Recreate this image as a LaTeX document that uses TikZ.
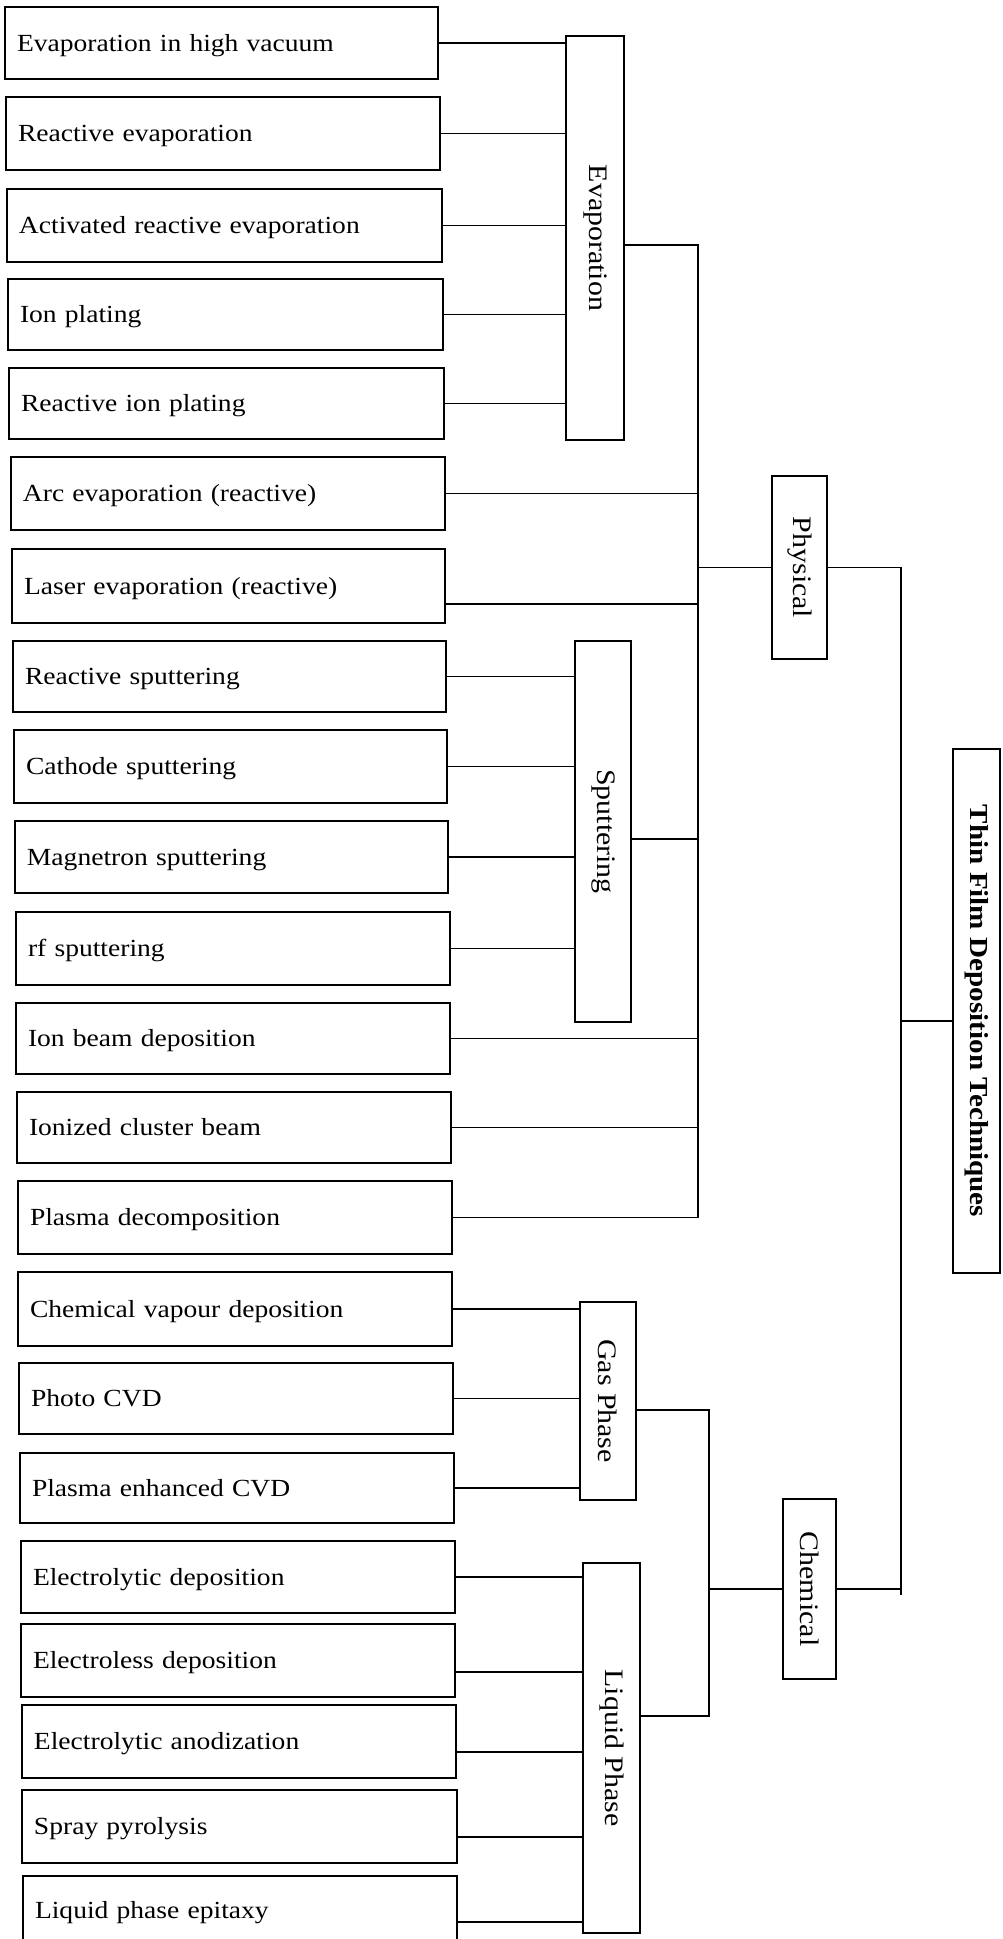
\documentclass[tikz,border=0pt]{standalone}
\usepackage{fontspec}
\setmainfont[FakeStretch=1.12]{Liberation Serif}
\usepackage{graphicx}
\newcommand\leafnode[6]{%
  \pgfmathsetmacro\lfw{#4-#2-24}%
  \pgfmathsetmacro\lfh{#5-#3}%
  \node[leafst, text width=\lfw pt, minimum height=\lfh pt] (#1) at ({(#2+#4)/2},{(#3+#5)/2}) {#6};}
\newcommand\catnode[7]{%
  \pgfmathsetmacro\cw{#4-#2}%
  \pgfmathsetmacro\ch{#5-#3}%
  \node[catst, minimum width=\cw pt, minimum height=\ch pt, #7] (#1) at ({(#2+#4)/2},{(#3+#5)/2}) {\rotatebox{-90}{#6}};}
\begin{document}
\begin{tikzpicture}[x=1pt, y=-1pt, line width=1.8pt,
  leafst/.style={draw, rectangle, inner xsep=12pt, inner ysep=0pt, align=left,
    font=\fontsize{24.6}{28}\selectfont, text height=16pt, text depth=0pt},
  catst/.style={draw, rectangle, inner sep=0pt, font=\fontsize{26.7}{30}\selectfont},
  conn/.style={line width=1.8pt}]
\fill[white] (0,0) rectangle (1002,1939);
\useasboundingbox (0,0) rectangle (1002,1939);

% leaves
\leafnode{l1}{5}{7}{438}{79}{Evaporation in high vacuum}
\leafnode{l2}{6}{97}{440}{170}{Reactive evaporation}
\leafnode{l3}{7}{189}{442}{262}{Activated reactive evaporation}
\leafnode{l4}{8}{279}{443}{350}{Ion plating}
\leafnode{l5}{9}{368}{444}{439}{Reactive ion plating}
\leafnode{l6}{11}{457}{445}{530}{Arc evaporation (reactive)}
\leafnode{l7}{12}{549}{445}{623}{Laser evaporation (reactive)}
\leafnode{l8}{13}{641}{446}{712}{Reactive sputtering}
\leafnode{l9}{14}{730}{447}{803}{Cathode sputtering}
\leafnode{l10}{15}{821}{448}{893}{Magnetron sputtering}
\leafnode{l11}{16}{912}{450}{985}{rf sputtering}
\leafnode{l12}{16}{1003}{450}{1074}{Ion beam deposition}
\leafnode{l13}{17}{1092}{451}{1163}{Ionized cluster beam}
\leafnode{l14}{18}{1181}{452}{1254}{Plasma decomposition}
\leafnode{l15}{18}{1272}{452}{1346}{Chemical vapour deposition}
\leafnode{l16}{19}{1363}{453}{1434}{Photo CVD}
\leafnode{l17}{20}{1453}{454}{1523}{Plasma enhanced CVD}
\leafnode{l18}{21}{1541}{455}{1613}{Electrolytic deposition}
\leafnode{l19}{21}{1624}{455}{1697}{Electroless deposition}
\leafnode{l20}{22}{1705}{456}{1778}{Electrolytic anodization}
\leafnode{l21}{22}{1790}{457}{1863}{Spray pyrolysis}
\leafnode{l22}{23}{1876}{457}{1945}{Liquid phase epitaxy}

% categories
\catnode{evap}{566}{36}{624}{440}{Evaporation}{}
\catnode{sput}{575}{641}{631}{1022}{Sputtering}{}
\catnode{gas}{580}{1302}{636}{1500}{Gas Phase}{}
\catnode{liq}{583}{1563}{640}{1933}{Liquid Phase}{}
\catnode{phys}{772}{476}{827}{659}{Physical}{}
\catnode{chem}{783}{1499}{836}{1679}{Chemical}{}
\catnode{thin}{953}{749}{1000}{1273}{\textbf{Thin Film Deposition Techniques}}{font=\fontsize{26}{30}\selectfont}

% evaporation group
\foreach \n in {l1,l2,l3,l4,l5}
  \draw[conn] (\n.east) -- (\n.east -| evap.west);
% sputtering group
\foreach \n in {l8,l9,l10,l11}
  \draw[conn] (\n.east) -- (\n.east -| sput.west);
% gas group
\foreach \n in {l15,l16,l17}
  \draw[conn] (\n.east) -- (\n.east -| gas.west);
% liquid group
\draw[conn] (l18.east) -- (l18.east -| liq.west);
\draw[conn] ([yshift=-11.5pt]l19.east) -- ([yshift=-11.5pt]l19.east -| liq.west);
\draw[conn] ([yshift=-10.5pt]l20.east) -- ([yshift=-10.5pt]l20.east -| liq.west);
\draw[conn] ([yshift=-10.5pt]l21.east) -- ([yshift=-10.5pt]l21.east -| liq.west);
\draw[conn] ([yshift=-11.5pt]l22.east) -- ([yshift=-11.5pt]l22.east -| liq.west);

% physical trunk
\coordinate (pt) at (698,245);
\draw[conn] ([yshift=-7pt]evap.east) -- (pt) |- (l14.east);
\draw[conn] (l6.east) -- (l6.east -| pt);
\draw[conn] ([yshift=-18pt]l7.east) -- ([yshift=-18pt]l7.east -| pt);
\draw[conn] ([yshift=-7.5pt]sput.east) -- ([yshift=-7.5pt]sput.east -| pt);
\draw[conn] (l12.east) -- (l12.east -| pt);
\draw[conn] (l13.east) -- (l13.east -| pt);
\draw[conn] (phys.west) -- (phys.west -| pt);

% chemical bus
\coordinate (cbb) at (709,1716);
\draw[conn] ([yshift=-9pt]gas.east) -| (cbb) -- ([yshift=32pt]liq.east);
\draw[conn] (chem.west) -- (chem.west -| cbb);

% main trunk
\coordinate (mb) at (901,1595);
\draw[conn] (phys.east) -| (mb);
\draw[conn] (chem.east) -- (chem.east -| mb);
\draw[conn] ([yshift=-10pt]thin.west) -- ([yshift=-10pt]thin.west -| mb);
\end{tikzpicture}
\end{document}
